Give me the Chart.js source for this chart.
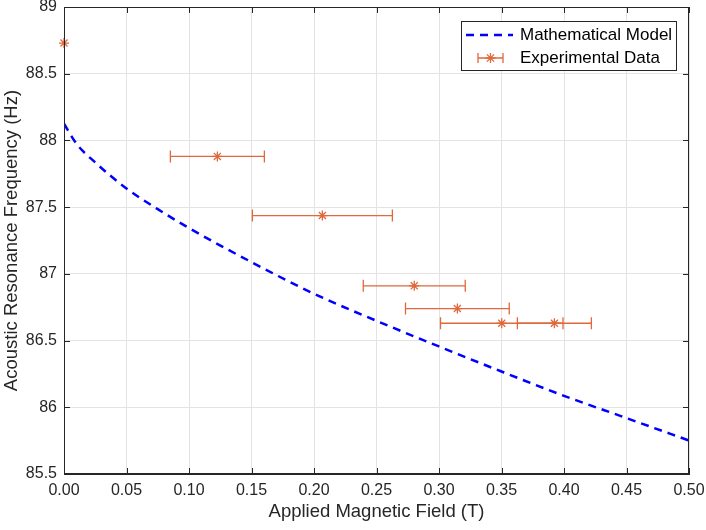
<!DOCTYPE html>
<html>
<head>
<meta charset="utf-8">
<script src="https://cdn.jsdelivr.net/npm/chart.js@4.4.1/dist/chart.umd.min.js"></script>
<style>
  html, body { margin: 0; padding: 0; background: #ffffff; }
  #wrap { width: 706px; height: 530px; }
</style>
</head>
<body>
<div id="wrap"><canvas id="c" width="706" height="530"></canvas></div>
<script>
// ---- data ----
const modelField = [0, 0.01, 0.025, 0.05, 0.075, 0.10, 0.15, 0.20, 0.25, 0.30, 0.35, 0.40, 0.45, 0.50];
const modelFreq  = [88.125, 87.975, 87.835, 87.64, 87.485, 87.343, 87.088, 86.851, 86.648, 86.456, 86.268, 86.086, 85.919, 85.751];

const expField = [0, 0.1227, 0.2067, 0.2802, 0.3147, 0.3502, 0.3923];
const expFreq  = [88.73, 87.88, 87.437, 86.91, 86.74, 86.63, 86.63];
const expFieldErr = [0, 0.0376, 0.056, 0.0408, 0.0415, 0.049, 0.0296];

const xTickValues = [0, 0.05, 0.10, 0.15, 0.20, 0.25, 0.30, 0.35, 0.40, 0.45, 0.50];
const yTickValues = [85.5, 86, 86.5, 87, 87.5, 88, 88.5, 89];

const seriesNames = ['Mathematical Model', 'Experimental Data'];
const axisTitles = ['Applied Magnetic Field (T)', 'Acoustic Resonance Frequency (Hz)'];

// ---- styles ----
const AXIS = '#262626';
const GRID = '#e3e3e3';
const BLUE = '#0000ff';
const ORANGE = '#e0683c';
const FONT = '"Liberation Sans", Arial, Helvetica, sans-serif';

const modelPts = modelField.map((x, i) => ({ x: x, y: modelFreq[i] }));
const expPts = expField.map((x, i) => ({ x: x, y: expFreq[i] }));

function drawStar(ctx, x, y, r) {
  ctx.beginPath();
  ctx.moveTo(x - r, y); ctx.lineTo(x + r, y);
  ctx.moveTo(x, y - r); ctx.lineTo(x, y + r);
  const d = r * 0.72;
  ctx.moveTo(x - d, y - d); ctx.lineTo(x + d, y + d);
  ctx.moveTo(x - d, y + d); ctx.lineTo(x + d, y - d);
  ctx.stroke();
}

const matlabPlugin = {
  id: 'matlabPlugin',
  beforeDatasetsDraw(chart) {
    const ctx = chart.ctx;
    const xs = chart.scales.x, ys = chart.scales.y;
    ctx.save();
    ctx.strokeStyle = ORANGE;
    ctx.lineWidth = 1.3;
    const cap = 6;
    expField.forEach((xv, i) => {
      const e = expFieldErr[i];
      if (!e) return;
      const py = ys.getPixelForValue(expFreq[i]);
      const x0 = xs.getPixelForValue(xv - e);
      const x1 = xs.getPixelForValue(xv + e);
      ctx.beginPath();
      ctx.moveTo(x0, py); ctx.lineTo(x1, py);
      ctx.moveTo(x0, py - cap); ctx.lineTo(x0, py + cap);
      ctx.moveTo(x1, py - cap); ctx.lineTo(x1, py + cap);
      ctx.stroke();
    });
    ctx.restore();
  },
  afterDraw(chart) {
    const ctx = chart.ctx;
    const a = chart.chartArea;
    const xs = chart.scales.x, ys = chart.scales.y;
    ctx.save();
    ctx.strokeStyle = AXIS;
    ctx.lineWidth = 1;
    ctx.strokeRect(Math.round(a.left) + 0.5, Math.round(a.top) + 0.5,
                   Math.round(a.right - a.left) - 1, Math.round(a.bottom - a.top) - 1);
    const tl = 6;
    ctx.beginPath();
    xTickValues.forEach(v => {
      const px = Math.round(xs.getPixelForValue(v)) + 0.5;
      ctx.moveTo(px, a.bottom); ctx.lineTo(px, a.bottom - tl);
      ctx.moveTo(px, a.top); ctx.lineTo(px, a.top + tl);
    });
    yTickValues.forEach(v => {
      const py = Math.round(ys.getPixelForValue(v)) + 0.5;
      ctx.moveTo(a.left, py); ctx.lineTo(a.left + tl, py);
      ctx.moveTo(a.right, py); ctx.lineTo(a.right - tl, py);
    });
    ctx.stroke();

    // legend
    const bx = a.right - 228, by = a.top + 14, bw = 215, bh = 49;
    ctx.fillStyle = '#ffffff';
    ctx.fillRect(bx, by, bw, bh);
    ctx.strokeStyle = AXIS;
    ctx.lineWidth = 1;
    ctx.strokeRect(Math.round(bx) + 0.5, Math.round(by) + 0.5, bw, bh);
    const y1 = by + 14, y2 = by + 37;
    ctx.strokeStyle = BLUE;
    ctx.lineWidth = 2.5;
    ctx.setLineDash([8, 6]);
    ctx.beginPath();
    ctx.moveTo(bx + 5, y1); ctx.lineTo(bx + 52, y1);
    ctx.stroke();
    ctx.setLineDash([]);
    ctx.strokeStyle = ORANGE;
    ctx.lineWidth = 1.3;
    ctx.beginPath();
    ctx.moveTo(bx + 17, y2); ctx.lineTo(bx + 42, y2);
    ctx.moveTo(bx + 17, y2 - 5); ctx.lineTo(bx + 17, y2 + 5);
    ctx.moveTo(bx + 42, y2 - 5); ctx.lineTo(bx + 42, y2 + 5);
    ctx.stroke();
    drawStar(ctx, bx + 29.5, y2, 5);
    ctx.fillStyle = '#000000';
    ctx.font = '17px ' + FONT;
    ctx.textBaseline = 'middle';
    ctx.textAlign = 'left';
    ctx.fillText(seriesNames[0], bx + 59, y1);
    ctx.fillText(seriesNames[1], bx + 59, y2);
    ctx.restore();
  }
};

new Chart(document.getElementById('c'), {
  type: 'scatter',
  data: {
    datasets: [
      {
        label: seriesNames[0],
        data: modelPts,
        showLine: true,
        borderColor: BLUE,
        borderWidth: 2.5,
        borderDash: [8, 6],
        pointRadius: 0,
        cubicInterpolationMode: 'monotone',
        fill: false,
        order: 2
      },
      {
        label: seriesNames[1],
        data: expPts,
        showLine: false,
        pointStyle: 'star',
        pointRadius: 5,
        borderColor: ORANGE,
        backgroundColor: ORANGE,
        pointBorderWidth: 1.3,
        clip: false,
        order: 1
      }
    ]
  },
  options: {
    responsive: false,
    animation: false,
    layout: { padding: { top: 7, right: 17, left: 0, bottom: 0 } },
    plugins: {
      legend: { display: false },
      tooltip: { enabled: false }
    },
    scales: {
      x: {
        type: 'linear',
        min: 0, max: 0.5,
        afterBuildTicks: s => { s.ticks = xTickValues.map(v => ({ value: v })); },
        afterFit: s => { s.height = 56; s.paddingLeft = 0; s.paddingRight = 0; },
        grid: { color: GRID, drawTicks: false, lineWidth: 1 },
        border: { display: true, color: AXIS },
        ticks: {
          color: AXIS,
          font: { family: FONT, size: 16 },
          padding: 7,
          maxRotation: 0,
          callback: v => v.toFixed(2)
        },
        title: {
          display: true,
          text: axisTitles[0],
          color: AXIS,
          font: { family: FONT, size: 18.5 },
          padding: { top: 2, bottom: 6.5 }
        }
      },
      y: {
        type: 'linear',
        min: 85.5, max: 89,
        afterBuildTicks: s => { s.ticks = yTickValues.map(v => ({ value: v })); },
        afterFit: s => { s.width = 64; s.paddingTop = 0; s.paddingBottom = 0; },
        grid: { color: GRID, drawTicks: false, lineWidth: 1 },
        border: { display: true, color: AXIS },
        ticks: {
          color: AXIS,
          font: { family: FONT, size: 16 },
          padding: 7,
          callback: v => String(Number(v.toFixed(1)))
        },
        title: {
          display: true,
          text: axisTitles[1],
          color: AXIS,
          font: { family: FONT, size: 18.5 },
          padding: { top: 1, bottom: 0 }
        }
      }
    }
  },
  plugins: [matlabPlugin]
});
</script>
</body>
</html>
